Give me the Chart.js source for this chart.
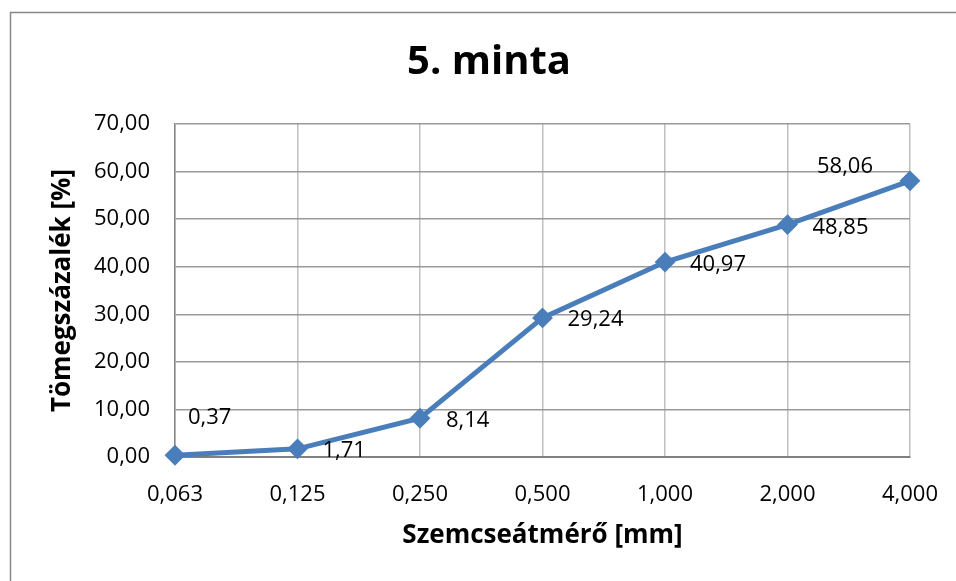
<!DOCTYPE html>
<html>
<head>
<meta charset="utf-8">
<script src="https://cdn.jsdelivr.net/npm/chart.js@4/dist/chart.umd.min.js"></script>
<style>
  html, body { margin: 0; padding: 0; background: #fff; }
  #wrap { width: 956px; height: 581px; position: relative; }
</style>
</head>
<body>
<div id="wrap"><canvas id="c" width="956" height="581"></canvas></div>
<script>
// Grain-size distribution, sample 5
const categories = ['0,063', '0,125', '0,250', '0,500', '1,000', '2,000', '4,000'];
const values = [0.37, 1.71, 8.14, 29.24, 40.97, 48.85, 58.06];
const valueLabels = ['0,37', '1,71', '8,14', '29,24', '40,97', '48,85', '58,06'];
const yTicks = [0, 10, 20, 30, 40, 50, 60, 70];
const chartTitle = '5. minta';

const FONT = "'Open Sans', sans-serif";
const BLUE = '#4a7ebb';

// label placement around each marker: [dx, dy] from the point centre, left-aligned text
const labelOffsets = [[13, -38], [25, 2], [26, 2], [25, 2], [25, 3], [25, 3], [-93, -14]];

// white page, outer chart frame and the heading
const frame = {
  id: 'frame',
  beforeDraw(chart) {
    const ctx = chart.ctx;
    ctx.save();
    ctx.fillStyle = '#fff';
    ctx.fillRect(0, 0, chart.width, chart.height);
    ctx.strokeStyle = '#888';
    ctx.lineWidth = 1.5;
    ctx.strokeRect(10.5, 12.5, 2000, 2000);
    ctx.font = `bold 40px ${FONT}`;
    ctx.fillStyle = '#000';
    ctx.textAlign = 'center';
    ctx.textBaseline = 'middle';
    ctx.fillText(chartTitle, 489, 63);
    ctx.restore();
  }
};

const valueTags = {
  id: 'valueTags',
  afterDatasetsDraw(chart) {
    const ctx = chart.ctx;
    const meta = chart.getDatasetMeta(0);
    ctx.save();
    ctx.font = `22px ${FONT}`;
    ctx.fillStyle = '#000';
    ctx.textAlign = 'left';
    ctx.textBaseline = 'middle';
    meta.data.forEach((pt, i) => {
      const [dx, dy] = labelOffsets[i];
      ctx.fillText(valueLabels[i], pt.x + dx, pt.y + dy);
    });
    ctx.restore();
  }
};

new Chart(document.getElementById('c'), {
  type: 'line',
  data: {
    labels: categories,
    datasets: [{
      data: values,
      borderColor: BLUE,
      backgroundColor: BLUE,
      borderWidth: 5,
      tension: 0,
      pointStyle: 'rectRot',
      pointRadius: 9,
      pointBorderWidth: 2,
      pointBorderColor: BLUE,
      pointBackgroundColor: BLUE,
      clip: false
    }]
  },
  options: {
    responsive: false,
    animation: false,
    devicePixelRatio: 1,
    layout: { padding: { left: 0, right: 46, top: 124, bottom: 0 } },
    plugins: {
      legend: { display: false },
      tooltip: { enabled: false },
      title: { display: false }
    },
    scales: {
      x: {
        type: 'category',
        offset: false,
        grid: { color: '#c0c0c0', lineWidth: 1.5, drawTicks: false },
        border: { color: '#808080', width: 2 },
        ticks: { color: '#000', font: { family: FONT, size: 22 }, padding: 25, maxRotation: 0, autoSkip: false },
        title: {
          display: true,
          text: 'Szemcseátmérő [mm]',
          color: '#000',
          font: { family: FONT, size: 26, weight: 'bold', lineHeight: 1.2 },
          padding: { top: 0, bottom: 30 }
        },
        afterFit(scale) {
          scale.height = 124;
          scale.paddingLeft = 0;
          scale.paddingRight = 0;
        }
      },
      y: {
        min: 0,
        max: 70,
        afterBuildTicks(scale) { scale.ticks = yTicks.map(v => ({ value: v })); },
        grid: { color: '#9a9a9a', lineWidth: 1.5, drawTicks: false },
        border: { color: '#888', width: 1.5 },
        ticks: {
          color: '#000',
          font: { family: FONT, size: 22 },
          padding: 25,
          callback: v => v.toFixed(2).replace('.', ',')
        },
        title: {
          display: true,
          text: 'Tömegszázalék [%]',
          color: '#000',
          font: { family: FONT, size: 26, weight: 'bold', lineHeight: 1.2 },
          padding: { top: 47, bottom: 0 }
        },
        afterFit(scale) { scale.width = 175; }
      }
    }
  },
  plugins: [frame, valueTags]
});
</script>
</body>
</html>
